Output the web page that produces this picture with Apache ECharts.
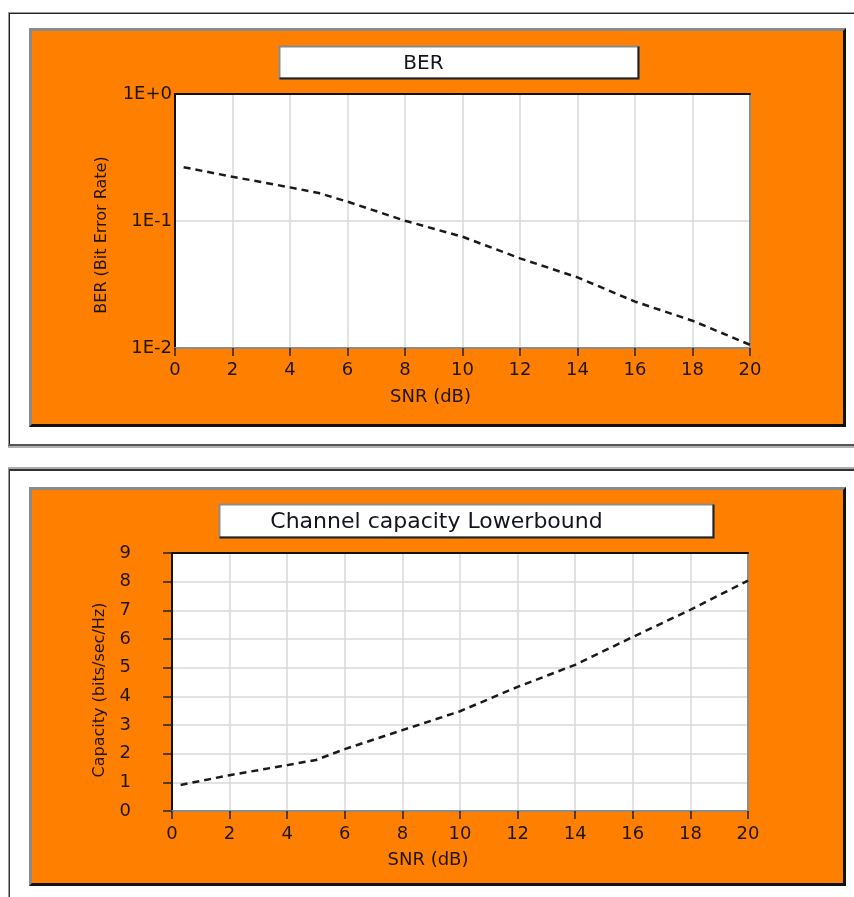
<!DOCTYPE html>
<html>
<head>
<meta charset="utf-8">
<script src="https://cdn.jsdelivr.net/npm/echarts@6/dist/echarts.min.js"></script>
<style>
  html, body { margin: 0; padding: 0; background: #fff; width: 854px; height: 897px; overflow: hidden; }
  .frame { position: absolute; box-sizing: border-box; }
  #frame1 { left: 8px; top: 12px; width: 900px; height: 434px;
    border-top: 1px solid #9a9a9a; border-left: 1px solid #9a9a9a; border-bottom: 2px solid #555;
    box-shadow: inset 1px 1px 0 #222, 0 2px 0 #b0b0b0; }
  #frame2 { left: 8px; top: 467px; width: 900px; height: 460px;
    border-top: 2px solid #aaa; border-left: 1px solid #9a9a9a;
    box-shadow: inset 1px 2px 0 #333; }
  .panel { position: absolute; box-sizing: border-box; width: 817px; height: 399px;
    border-left: 3px solid #8a8a8a; border-top: 3px solid #8a8a8a;
    border-right: 3px solid #111; border-bottom: 3px solid #111; background: #ff8000; }
  #panel1 { left: 29px; top: 28px; }
  #panel2 { left: 29px; top: 487px; }
  .chart { width: 811px; height: 393px; }
</style>
</head>
<body>
<div class="frame" id="frame1"></div>
<div class="frame" id="frame2"></div>
<div class="panel" id="panel1"><div class="chart" id="c1"></div></div>
<div class="panel" id="panel2"><div class="chart" id="c2"></div></div>
<script>
// ---- data ----
var snr = [0.3, 2, 4, 5, 6, 8, 10, 12, 14, 16, 18, 20];
var ber = [0.265, 0.223, 0.184, 0.166, 0.142, 0.1005, 0.0752, 0.0508, 0.036, 0.0232, 0.0164, 0.0106];
var capacity = [0.91, 1.25, 1.60, 1.78, 2.16, 2.82, 3.48, 4.33, 5.10, 6.07, 7.02, 8.04];
var xTicks = [0, 2, 4, 6, 8, 10, 12, 14, 16, 18, 20];
var berTickLabels = { '1': '1E+0', '0.1': '1E-1', '0.01': '1E-2' };
var capTicks = [0, 1, 2, 3, 4, 5, 6, 7, 8, 9];
var title1 = 'BER', title2 = 'Channel capacity Lowerbound';
var xName = 'SNR (dB)', yName1 = 'BER (Bit Error Rate)', yName2 = 'Capacity (bits/sec/Hz)';

var FONT = '"DejaVu Sans", Verdana, sans-serif';
var TXT = '#1e1408';

function pairs(xs, ys) { return xs.map(function (x, i) { return [x, ys[i]]; }); }

function titleBox(left, top, w, h, text, textX, fontSize) {
  return {
    type: 'group', left: left, top: top,
    children: [
      { type: 'rect', shape: { x: 0, y: 0, width: w, height: h }, style: { fill: '#fff', stroke: '#8a8a8a', lineWidth: 2 } },
      { type: 'polyline', shape: { points: [[w, 0], [w, h], [0, h]] }, style: { stroke: '#222', lineWidth: 2, fill: null } },
      { type: 'text', x: textX, y: h / 2 + 1, style: { text: text, fill: '#14141e', font: fontSize + 'px ' + FONT,
        textAlign: 'center', textVerticalAlign: 'middle', align: 'center', verticalAlign: 'middle' } }
    ]
  };
}

function xAxes(margin) {
  return [{
    type: 'value', min: 0, max: 20, interval: 2, position: 'bottom',
    name: xName, nameLocation: 'middle', nameGap: 40,
    nameTextStyle: { fontFamily: FONT, fontSize: 18, color: TXT, padding: [0, 64, 0, 0] },
    axisLine: { show: true, onZero: false, lineStyle: { color: '#8c8c8c', width: 2 } },
    axisTick: { show: true, length: 8, lineStyle: { color: '#222', width: 1.5 } },
    axisLabel: { fontFamily: FONT, fontSize: 18, color: TXT, margin: margin },
    splitLine: { show: true, lineStyle: { color: '#d8d8d8', width: 1.5 } }
  }, {
    type: 'value', min: 0, max: 20, position: 'top',
    axisLine: { show: true, onZero: false, lineStyle: { color: '#111', width: 2 } },
    axisTick: { show: false }, axisLabel: { show: false }, splitLine: { show: false }
  }];
}

var rightAxis = {
  type: 'value', min: 0, max: 1, position: 'right',
  axisLine: { show: true, onZero: false, lineStyle: { color: '#8c8c8c', width: 2 } },
  axisTick: { show: false }, axisLabel: { show: false }, splitLine: { show: false }
};

var lineStyle = { color: '#1a1a1a', width: 2.5, type: [7, 5] };

// ---- chart 1: BER ----
var c1 = echarts.init(document.getElementById('c1'), null, { renderer: 'canvas' });
c1.setOption({
  animation: false,
  backgroundColor: '#ff8000',
  grid: { left: 143, top: 63, width: 575, height: 254, show: true, backgroundColor: '#fff', borderWidth: 0 },
  graphic: [titleBox(245, 13, 359, 32, title1, 144, 20)],
  xAxis: xAxes(13),
  yAxis: [{
    type: 'log', logBase: 10, min: 0.01, max: 1, position: 'left',
    name: yName1, nameLocation: 'middle', nameGap: 65, nameRotate: 90,
    nameTextStyle: { fontFamily: FONT, fontSize: 16, color: TXT, padding: [0, 28, 0, 0] },
    axisLine: { show: true, onZero: false, lineStyle: { color: '#111', width: 2 } },
    axisTick: { show: false },
    axisLabel: { fontFamily: FONT, fontSize: 18, color: TXT, margin: 3,
      formatter: function (v) { var k = String(+v.toPrecision(3)); return berTickLabels[k] || ''; } },
    splitLine: { show: true, lineStyle: { color: '#d8d8d8', width: 1.5 } }
  }, rightAxis],
  series: [{
    type: 'line', data: pairs(snr, ber), showSymbol: false, symbol: 'none',
    lineStyle: lineStyle, xAxisIndex: 0, yAxisIndex: 0
  }]
});

// ---- chart 2: Capacity ----
var c2 = echarts.init(document.getElementById('c2'), null, { renderer: 'canvas' });
c2.setOption({
  animation: false,
  backgroundColor: '#ff8000',
  grid: { left: 140, top: 63, width: 576, height: 258, show: true, backgroundColor: '#fff', borderWidth: 0 },
  graphic: [titleBox(185, 12, 494, 33, title2, 217, 22)],
  xAxis: xAxes(14),
  yAxis: [{
    type: 'value', min: capTicks[0], max: capTicks[capTicks.length - 1], interval: 1, position: 'left',
    name: yName2, nameLocation: 'middle', nameGap: 64, nameRotate: 90,
    nameTextStyle: { fontFamily: FONT, fontSize: 16, color: TXT, padding: [0, 16, 0, 0] },
    axisLine: { show: true, onZero: false, lineStyle: { color: '#111', width: 2 } },
    axisTick: { show: false }, axisLabel: { show: false },
    splitLine: { show: true, lineStyle: { color: '#d8d8d8', width: 1.5 } }
  }, {
    type: 'value', min: capTicks[0], max: capTicks[capTicks.length - 1], interval: 1, position: 'left', offset: 21,
    axisLine: { show: false },
    axisTick: { show: true, length: 9, lineStyle: { color: '#222', width: 1.5 } },
    axisLabel: { fontFamily: FONT, fontSize: 18, color: TXT, margin: 20 },
    splitLine: { show: false }
  }, rightAxis],
  series: [{
    type: 'line', data: pairs(snr, capacity), showSymbol: false, symbol: 'none',
    lineStyle: lineStyle, xAxisIndex: 0, yAxisIndex: 0
  }]
});
</script>
</body>
</html>
